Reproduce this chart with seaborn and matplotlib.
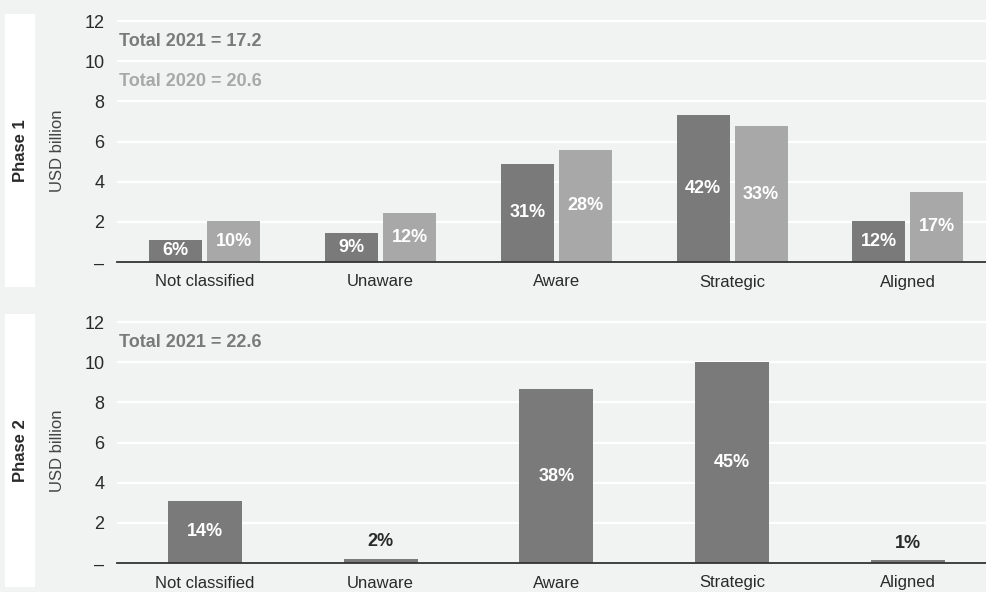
import matplotlib
matplotlib.use("Agg")
import matplotlib.pyplot as plt
from matplotlib.patches import Rectangle
import seaborn as sns
import pandas as pd

# ---------------- data ----------------
categories = ["Not classified", "Unaware", "Aware", "Strategic", "Aligned"]
phase1_2021 = [1.1, 1.45, 4.9, 7.3, 2.05]
phase1_2020 = [2.05, 2.45, 5.6, 6.75, 3.5]
phase1_2021_pct = ["6%", "9%", "31%", "42%", "12%"]
phase1_2020_pct = ["10%", "12%", "28%", "33%", "17%"]
phase2_2021 = [3.1, 0.22, 8.65, 10.0, 0.14]
phase2_2021_pct = ["14%", "2%", "38%", "45%", "1%"]
yticks = [0, 2, 4, 6, 8, 10, 12]
ytick_labels = ["\u2013", "2", "4", "6", "8", "10", "12"]
phase_labels = ["Phase 1", "Phase 2"]
total_p1_2021 = "Total 2021 = 17.2"
total_p1_2020 = "Total 2020 = 20.6"
total_p2_2021 = "Total 2021 = 22.6"

# ---------------- style ----------------
BG = "#f1f2f2"
DARK = "#7a7a7a"
LIGHT = "#a8a8a8"
TXT = "#2a2a2a"

sns.set_theme(style="white", rc={"axes.facecolor": BG, "figure.facecolor": BG})
plt.rcParams["font.family"] = ["Liberation Sans", "DejaVu Sans"]

W, H = 987, 592
fig = plt.figure(figsize=(W / 100, H / 100), dpi=100)
fig.patch.set_facecolor(BG)

ax1 = fig.add_axes([117 / W, 1 - 262 / H, 1 - 117 / W, (262 - 19) / H])
ax2 = fig.add_axes([117 / W, 1 - 563 / H, 1 - 117 / W, (563 - 320) / H])

# white side boxes with phase labels
for top_px, label in zip([14, 314], phase_labels):
    fig.patches.append(Rectangle((5 / W, 1 - (top_px + 273) / H), 30 / W, 273 / H,
                                 transform=fig.transFigure, facecolor="white",
                                 edgecolor="none", zorder=0))
    fig.text(21 / W, 1 - (top_px + 137) / H, label, rotation=90, ha="center",
             va="center", fontsize=12, fontweight="bold", color=TXT)
    fig.text(58 / W, 1 - (top_px + 137) / H, "USD billion", rotation=90,
             ha="center", va="center", fontsize=12, color="#444444")

LBL = dict(fontsize=13, fontweight="bold")

# ---- top panel ----
df1 = pd.DataFrame({
    "category": categories * 2,
    "value": phase1_2021 + phase1_2020,
    "year": ["2021"] * len(categories) + ["2020"] * len(categories),
})
sns.barplot(data=df1, x="category", y="value", hue="year", hue_order=["2021", "2020"],
            palette=[DARK, LIGHT], width=0.66, gap=0.085, saturation=1,
            errorbar=None, legend=False, ax=ax1, zorder=3, linewidth=0)
ax1.bar_label(ax1.containers[0], labels=phase1_2021_pct, label_type="center",
              color="white", **LBL)
ax1.bar_label(ax1.containers[1], labels=phase1_2020_pct, label_type="center",
              color="white", **LBL)
ax1.text(0.002, 11.0, total_p1_2021, transform=ax1.get_yaxis_transform(),
         ha="left", va="center", fontsize=13, fontweight="bold", color=DARK)
ax1.text(0.002, 9.0, total_p1_2020, transform=ax1.get_yaxis_transform(),
         ha="left", va="center", fontsize=13, fontweight="bold", color=LIGHT)

# ---- bottom panel ----
df2 = pd.DataFrame({"category": categories, "value": phase2_2021})
sns.barplot(data=df2, x="category", y="value", color=DARK, width=0.42,
            saturation=1, errorbar=None, ax=ax2, zorder=3, linewidth=0)
inside = [p if v >= 1 else "" for p, v in zip(phase2_2021_pct, phase2_2021)]
outside = [p if v < 1 else "" for p, v in zip(phase2_2021_pct, phase2_2021)]
ax2.bar_label(ax2.containers[0], labels=inside, label_type="center",
              color="white", **LBL)
ax2.bar_label(ax2.containers[0], labels=outside, label_type="edge", padding=6,
              color=TXT, **LBL)
ax2.text(0.002, 11.0, total_p2_2021, transform=ax2.get_yaxis_transform(),
         ha="left", va="center", fontsize=13, fontweight="bold", color=DARK)

for ax in (ax1, ax2):
    ax.set_facecolor(BG)
    ax.set_ylim(0, 12.1)
    ax.set_xlim(-0.5, 4.45)
    ax.set_yticks(yticks)
    ax.set_yticklabels(ytick_labels)
    ax.set_xlabel("")
    ax.set_ylabel("")
    ax.yaxis.grid(True, color="white", linewidth=1.6)
    ax.xaxis.grid(False)
    ax.set_axisbelow(True)
    for s in ("top", "right", "left"):
        ax.spines[s].set_visible(False)
    ax.spines["bottom"].set_color("#333333")
    ax.spines["bottom"].set_linewidth(1.3)
    ax.spines["bottom"].set_zorder(5)
    ax.tick_params(axis="both", length=0, colors=TXT)
    ax.tick_params(axis="y", labelsize=13, pad=9)
    ax.tick_params(axis="x", labelsize=12, pad=9)

fig.savefig("out.png", dpi=100, facecolor=BG)
